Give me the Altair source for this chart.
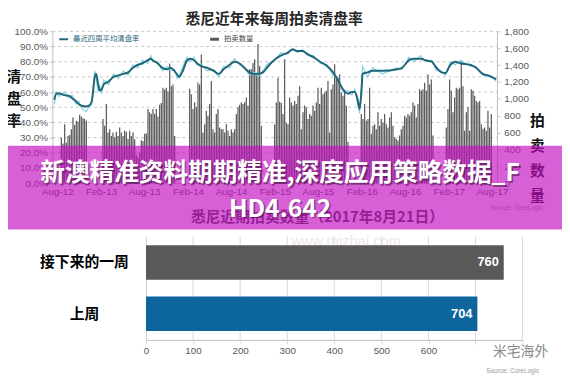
import altair as alt
import pandas as pd

# ---------------- texts ----------------
TITLE_TOP = "悉尼近年来每周拍卖清盘率"
TITLE_BOTTOM = "悉尼近期拍卖数量（2017年8月21日）"
LEFT_TITLE = "清\n盘\n率"
RIGHT_TITLE = "拍\n卖\n数\n量"
LEGEND_LINE = "最近四周平均清盘率"
LEGEND_BAR = "拍卖数量"
SOURCE = "Source: CoreLogic"
BANNER_1 = "新澳精准资料期期精准,深度应用策略数据_F"
BANNER_2 = "HD4.642"
WATERMARK = "www.mizhai.com"
LOGO = "米宅海外"

# ---------------- top chart: weekly auction volumes ----------------
season_starts = ["2012-08-18", "2013-02-09", "2014-02-08", "2015-01-31", "2016-01-30", "2017-01-21"]
vol_2012 = [540, 470, 700, 480, 560, 570, 640, 780, 690, 740, 730, 810, 790, 770, 760, 740]
vol_2013 = [760, 680, 940, 600, 640, 560, 600, 545, 610, 560, 660, 600, 560, 620, 610, 525,
            620, 560, 600, 520, 330, 300, 360, 505, 500, 585, 590, 880, 840, 820, 880, 820,
            880, 790, 930, 950, 1130, 1110, 1130, 1090, 1420, 1150, 1170, 560]
vol_2014 = [1120, 1055, 880, 960, 900, 1190, 1170, 1525, 600, 700, 860, 800, 940, 1210, 640,
            600, 820, 880, 660, 640, 640, 600, 700, 620, 560, 640, 600, 640, 820, 900, 930,
            960, 940, 960, 1015, 920, 1350, 1350, 1425, 1470, 1310, 1650, 1390, 680]
vol_2015 = [700, 955, 1250, 965, 950, 820, 1470, 720, 700, 1015, 955, 920, 975, 940, 1035,
            1150, 640, 840, 920, 900, 760, 820, 800, 920, 860, 955, 1130, 940, 1130, 1055,
            1075, 1095, 1210, 600, 1115, 1170, 1410, 1270, 1250, 1290, 1075, 1035, 1095, 920, 490]
vol_2016 = [820, 760, 940, 740, 760, 1130, 585, 680, 700, 640, 840, 680, 760, 720, 820, 700,
            660, 780, 840, 680, 545, 525, 505, 565, 640, 680, 800, 780, 820, 800, 840, 955,
            920, 780, 940, 1115, 1095, 1115, 1190, 1095, 1290, 1170, 1230, 565]
vol_2017 = [660, 880, 1230, 1095, 840, 1015, 1130, 1115, 1130, 1450, 1150, 620, 840, 900,
            620, 1115, 1095, 1035, 975, 955, 975, 700, 645, 660, 620, 860, 660, 820]

# ---------------- top chart: clearance rates (%) ----------------
rate_dates = [
    "2012-08-09", "2012-08-17", "2012-08-29", "2012-09-19", "2012-10-09", "2012-10-21",
    "2012-11-06", "2012-11-18", "2012-11-30", "2012-12-17", "2012-12-29", "2013-01-10",
    "2013-01-22", "2013-01-28", "2013-02-04", "2013-02-12", "2013-02-20", "2013-02-28",
    "2013-03-20", "2013-04-09", "2013-04-29", "2013-05-19", "2013-06-08", "2013-06-28",
    "2013-07-18", "2013-08-07", "2013-08-28", "2013-09-09", "2013-09-17", "2013-10-07",
    "2013-10-27", "2013-11-17", "2013-11-29", "2013-12-15", "2013-12-27", "2014-01-04",
    "2014-01-16", "2014-02-06", "2014-02-18", "2014-03-06", "2014-03-18", "2014-04-07",
    "2014-04-28", "2014-05-26", "2014-06-15", "2014-07-05", "2014-07-30", "2014-08-19",
    "2014-09-08", "2014-09-28", "2014-10-19", "2014-11-08", "2014-11-24", "2014-12-14",
    "2015-01-04", "2015-01-28", "2015-02-25", "2015-03-26", "2015-04-15", "2015-05-05",
    "2015-05-25", "2015-06-15", "2015-07-09", "2015-08-06", "2015-09-04", "2015-09-28",
    "2015-10-18", "2015-11-07", "2015-11-28", "2015-12-14", "2015-12-26", "2016-01-07",
    "2016-01-15", "2016-01-23", "2016-01-27", "2016-02-17", "2016-03-08", "2016-04-17",
    "2016-06-17", "2016-07-07", "2016-08-05", "2016-08-25", "2016-09-22", "2016-10-12",
    "2016-11-06", "2016-11-26", "2016-12-16", "2017-01-01", "2017-01-22", "2017-02-11",
    "2017-03-03", "2017-04-13", "2017-05-07", "2017-06-04", "2017-07-03", "2017-07-29"]
rate_avg = [55, 59, 59, 58, 57.5, 56, 54, 52, 51, 50.5, 51, 54,
            70, 72, 66, 61, 62, 65, 67, 70, 71, 72, 73, 76,
            78, 79, 81, 82, 81, 79, 76, 75, 76, 74, 71.5, 70,
            73, 81, 82, 81, 79, 77, 76, 74, 72, 75, 78, 80,
            79, 76, 73, 72, 72, 73, 77, 81, 84, 86, 88, 87,
            87, 85, 83, 80, 77, 73, 68, 62, 59, 60, 60, 55,
            49, 62, 72, 73, 74, 74, 75, 76, 81, 82, 82, 81,
            80, 76, 73, 72.5, 78, 80, 79, 78, 76, 72, 70.5, 68.5]
rate_week = [52, 60, 57, 60, 56, 58, 52, 54, 49, 47, 50, 52,
             74, 70, 60, 64, 59, 68, 65, 72, 69, 74, 71, 78,
             76, 81, 79, 84, 80, 80, 74, 77, 74, 75, 69, 71,
             76, 83, 80, 83, 78, 78, 74, 75, 70, 77, 76, 82,
             78, 77, 71, 73, 70, 74, 79, 80, 86, 85, 89, 86,
             88, 84, 84, 79, 78, 71, 69, 60, 61, 58, 62, 52,
             46, 66, 77, 70, 76, 72, 76, 75, 83, 80, 84, 80,
             81, 74, 74, 71, 80, 78, 81, 77, 77, 71, 71, 67]

x_ticks = ["2012-08-01", "2013-02-01", "2013-08-01", "2014-02-01", "2014-08-01", "2015-02-01",
           "2015-08-01", "2016-02-01", "2016-08-01", "2017-02-01", "2017-08-01"]
pct_ticks = [0, 0.1, 0.2, 0.3, 0.4, 0.5, 0.6, 0.7, 0.8, 0.9, 1.0]
vol_ticks = [0, 200, 400, 600, 800, 1000, 1200, 1400, 1600, 1800]

# ---------------- bottom chart ----------------
bar_cats = ["接下来的一周", "上周"]
bar_vals = [760, 704]
bar_colors = ["#595959", "#0c669c"]
bar_ticks = [0, 100, 200, 300, 400, 500, 600, 700, 800]

# ---------------- layout (pixels in chart space) ----------------
W, H = 562, 373
TOP_X = [45, 496]
TOP_Y = [175, 21]
BOT_X = [140, 522]
BOT_Y = [229, 334]
CJK = "Noto Sans CJK SC"
LAT = "Liberation Sans"


def ms(s):
    return int(pd.Timestamp(s, tz="UTC").timestamp() * 1000)


rows = []
for start, vals in zip(season_starts, [vol_2012, vol_2013, vol_2014, vol_2015, vol_2016, vol_2017]):
    for i, v in enumerate(vals):
        rows.append({"date": (pd.Timestamp(start) + pd.Timedelta(days=7 * i)).strftime("%Y-%m-%d"),
                     "vol": v})
vol_df = pd.DataFrame(rows)
rate_df = pd.DataFrame({"date": rate_dates,
                        "avg": [v / 100 for v in rate_avg],
                        "week": [v / 100 for v in rate_week]})

x_scale = alt.Scale(type="utc", domain=[ms("2012-08-01"), ms("2017-08-01")], range=TOP_X)
rate_scale = alt.Scale(domain=[0, 1], range=TOP_Y, nice=False, zero=False)
vol_scale = alt.Scale(domain=[0, 1800], range=TOP_Y, nice=False)

ax_common = dict(labelFont=LAT, labelFontSize=10, labelColor="#595959",
                 domainColor="#bfbfbf", tickColor="#bfbfbf", title=None, grid=False)

x_axis = alt.Axis(orient="bottom", offset=TOP_Y[0] - H, values=[ms(d) for d in x_ticks],
                  labelExpr="utcFormat(datum.value, '%b-%y')", ticks=False, labelPadding=4,
                  labelFlush=False, labelOverlap=False, **ax_common)
rate_axis = alt.Axis(orient="left", offset=-TOP_X[0], values=pct_ticks, format=".1%",
                     tickSize=3, labelPadding=2, labelOverlap=False, **ax_common)
vol_axis = alt.Axis(orient="right", offset=TOP_X[1] - W, values=vol_ticks, format=",.0f",
                    tickSize=3, labelPadding=4, labelOverlap=False, **ax_common)

grid_top = alt.Chart(pd.DataFrame({"v": pct_ticks[1:]})).mark_rule(
    color="#b8b8b8", strokeWidth=0.8, strokeDash=[3, 3]).encode(
    y=alt.Y("v:Q", scale=rate_scale, axis=None),
    x=alt.value(TOP_X[0]), x2=alt.value(TOP_X[1]))

bars_top = alt.Chart(vol_df).mark_bar(size=1.2, color="#555555").encode(
    x=alt.X("date:T", scale=x_scale, axis=x_axis),
    y=alt.Y("vol:Q", scale=vol_scale, axis=vol_axis))

line_week = alt.Chart(rate_df).mark_line(color="#7fcfe2", strokeWidth=1.1).encode(
    x=alt.X("date:T", scale=x_scale, axis=None),
    y=alt.Y("week:Q", scale=rate_scale, axis=rate_axis))

line_avg = alt.Chart(rate_df).mark_line(color="#1f6679", strokeWidth=2, interpolate="monotone").encode(
    x=alt.X("date:T", scale=x_scale, axis=None),
    y=alt.Y("avg:Q", scale=rate_scale, axis=None))

one = pd.DataFrame({"k": [0]})


def text_layer(txt, x, y, **kw):
    return alt.Chart(pd.DataFrame({"t": [txt]})).mark_text(**kw).encode(
        x=alt.value(x), y=alt.value(y), text="t:N")


legend_line = alt.Chart(one).mark_rule(color="#1f6679", strokeWidth=2).encode(
    x=alt.value(52), x2=alt.value(61), y=alt.value(29))
legend_rect = alt.Chart(one).mark_rect(color="#595959").encode(
    x=alt.value(205), x2=alt.value(214), y=alt.value(27.5), y2=alt.value(30.5))

# ---------------- bottom chart layers ----------------
bot_df = pd.DataFrame({"c": bar_cats, "v": bar_vals})
bx_scale = alt.Scale(domain=[0, 800], range=BOT_X, nice=False)
by_scale = alt.Scale(domain=bar_cats, range=BOT_Y, paddingInner=0.33, paddingOuter=0.175)

bx_axis = alt.Axis(orient="bottom", offset=BOT_Y[1] - H, values=bar_ticks,
                   labelExpr="datum.value <= 600 ? datum.label : ''", tickSize=4,
                   labelPadding=2, labelFlush=False, labelOverlap=False,
                   **{**ax_common, "tickColor": "#d9d9d9"})
by_axis = alt.Axis(orient="left", offset=-BOT_X[0], ticks=False, tickSize=0, labelPadding=63,
                   labelAlign="center", labelBaseline="middle", labelFont=CJK, labelFontSize=15,
                   labelFontWeight="bold", labelColor="#000000", domainColor="#d0d0d0",
                   title=None, grid=False)

grid_bot = alt.Chart(pd.DataFrame({"v": bar_ticks[1:]})).mark_rule(
    color="#d9d9d9", strokeWidth=1).encode(
    x=alt.X("v:Q", scale=bx_scale, axis=None),
    y=alt.value(BOT_Y[0]), y2=alt.value(BOT_Y[1]))

bars_bot = alt.Chart(bot_df).mark_bar().encode(
    x=alt.X("v:Q", scale=bx_scale, axis=bx_axis),
    y=alt.Y("c:N", scale=by_scale, axis=by_axis, sort=bar_cats),
    color=alt.Color("c:N", scale=alt.Scale(domain=bar_cats, range=bar_colors), legend=None))

labels_bot = alt.Chart(bot_df).mark_text(
    align="right", baseline="middle", dx=-5, color="white", font=LAT,
    fontSize=13, fontWeight="bold").encode(
    x=alt.X("v:Q", scale=bx_scale, axis=None),
    y=alt.Y("c:N", scale=by_scale, axis=None, sort=bar_cats),
    text="v:Q")

banner = alt.Chart(one).mark_rect(color="#c40ec1", opacity=0.66).encode(
    x=alt.value(0), x2=alt.value(W), y=alt.value(137), y2=alt.value(222))

layers = [
    grid_top, bars_top, line_week, line_avg,
    legend_line, legend_rect,
    text_layer(LEGEND_LINE, 66, 29, align="left", baseline="middle", font=CJK, fontSize=7.5, color="#1f6679"),
    text_layer(LEGEND_BAR, 219, 29, align="left", baseline="middle", font=CJK, fontSize=7.5, color="#404040"),
    text_layer(TITLE_TOP, 270, 9, align="center", baseline="middle", font=CJK, fontSize=15,
               fontWeight="bold", color="#262626"),
    text_layer(LEFT_TITLE, 6, 67, align="center", baseline="middle", font=CJK, fontSize=15,
               fontWeight="bold", color="#111111", lineBreak="\n", lineHeight=22.5),
    text_layer(RIGHT_TITLE, 537, 112, align="center", baseline="middle", font=CJK, fontSize=15,
               fontWeight="bold", color="#111111", lineBreak="\n", lineHeight=25.3),
    text_layer(SOURCE, 516, 200, align="center", baseline="middle", font=LAT, fontSize=6.5, color="#9a9a9a"),
    text_layer(WATERMARK, 343, 234, align="center", baseline="middle", font=LAT, fontSize=15, color="#f1e6e6"),
    grid_bot, bars_bot, labels_bot,
    text_layer(TITLE_BOTTOM, 314, 209, align="center", baseline="middle", font=CJK, fontSize=15,
               fontWeight="bold", color="#3f3f3f"),
    text_layer(SOURCE, 512, 366, align="center", baseline="middle", font=LAT, fontSize=6.5, color="#9a9a9a"),
    text_layer(LOGO, 520, 346, align="center", baseline="middle", font=CJK, fontSize=14, color="#8a8a8a"),
    banner,
    text_layer(BANNER_1, 277.5, 166.5, align="center", baseline="middle", font=CJK, fontSize=25,
               fontWeight="bold", color="#3a0f38", opacity=0.5),
    text_layer(BANNER_2, 277.5, 202.5, align="center", baseline="middle", font=CJK, fontSize=25,
               fontWeight="bold", color="#3a0f38", opacity=0.5),
    text_layer(BANNER_1, 276, 165, align="center", baseline="middle", font=CJK, fontSize=25,
               fontWeight="bold", color="#ffffff"),
    text_layer(BANNER_2, 276, 201, align="center", baseline="middle", font=CJK, fontSize=25,
               fontWeight="bold", color="#ffffff"),
]

chart = alt.layer(*layers).resolve_scale(
    x="independent", y="independent", color="independent"
).properties(
    width=W, height=H, padding=0, background="white",
    autosize=alt.AutoSizeParams(type="none"),
).configure_view(stroke=None)

chart.save("out.html", embed_options={"renderer": "svg", "actions": False})
